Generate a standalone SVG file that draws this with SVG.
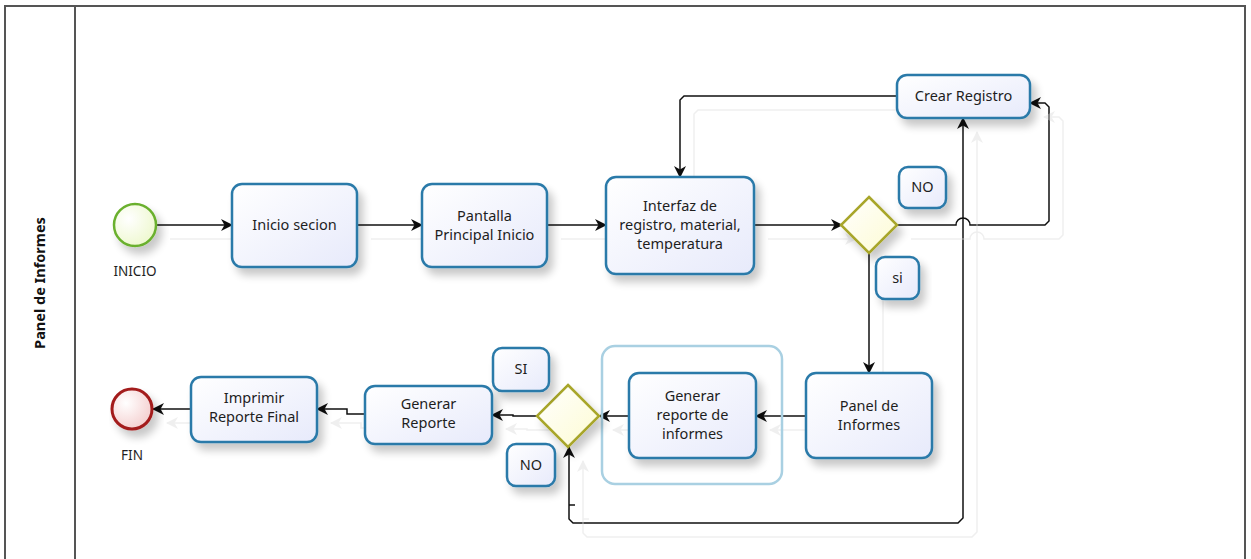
<svg xmlns="http://www.w3.org/2000/svg" width="1251" height="559" viewBox="0 0 1251 559">
  <style>
    .frame { fill: none; stroke: #555; stroke-width: 2; }
    .task { fill: url(#taskFill); stroke: #2b7aa9; stroke-width: 2.5; filter: url(#nodeShadow); }
    .note { fill: url(#taskFill); stroke: #2b7aa9; stroke-width: 2.5; filter: url(#nodeShadow); }
    .gw { fill: url(#gwFill); stroke: #a8a62c; stroke-width: 2.5; filter: url(#nodeShadow); }
    .container { fill: none; stroke: #a9d0e2; stroke-width: 2.5; }
    .start { fill: url(#startFill); stroke: #6bb02f; stroke-width: 2.5; filter: url(#nodeShadow); }
    .end { fill: url(#endFill); stroke: #a31d1d; stroke-width: 3; filter: url(#nodeShadow); }
    .lbl { font-family: "Noto Sans", "Open Sans", sans-serif; font-size: 14.5px; fill: #1e1e1e; text-anchor: middle; }
    .evt { font-family: "Noto Sans", "Open Sans", sans-serif; font-size: 13.5px; fill: #1e1e1e; text-anchor: middle; }
    .lane { font-family: "Noto Sans", "Liberation Sans", sans-serif; font-size: 14.5px; font-weight: bold; fill: #111; text-anchor: middle; }
    .flow { fill: none; stroke: #111; stroke-width: 1.5; }
  </style>
  <defs>
    <linearGradient id="taskFill" x1="0" y1="0" x2="1" y2="1">
      <stop offset="0" stop-color="#ffffff"/>
      <stop offset="1" stop-color="#e7eafb"/>
    </linearGradient>
    <linearGradient id="gwFill" x1="0" y1="0" x2="1" y2="1">
      <stop offset="0" stop-color="#ffffff"/>
      <stop offset="1" stop-color="#fdfbd2"/>
    </linearGradient>
    <radialGradient id="startFill" cx="0.35" cy="0.35" r="0.7">
      <stop offset="0" stop-color="#ffffff"/>
      <stop offset="1" stop-color="#eef8cf"/>
    </radialGradient>
    <radialGradient id="endFill" cx="0.35" cy="0.35" r="0.7">
      <stop offset="0" stop-color="#ffffff"/>
      <stop offset="1" stop-color="#f4cfcf"/>
    </radialGradient>
    <filter id="nodeShadow" x="-20%" y="-20%" width="150%" height="160%">
      <feGaussianBlur in="SourceAlpha" stdDeviation="4"/>
      <feOffset dx="5" dy="7" result="b"/>
      <feComponentTransfer in="b" result="s">
        <feFuncA type="linear" slope="0.22"/>
      </feComponentTransfer>
      <feMerge>
        <feMergeNode in="s"/>
        <feMergeNode in="SourceGraphic"/>
      </feMerge>
    </filter>
    <filter id="flowGhost" x="-5%" y="-5%" width="115%" height="120%">
      <feFlood flood-color="#efefef"/>
      <feComposite in2="SourceAlpha" operator="in"/>
      <feOffset dx="14" dy="14" result="g"/>
      <feMerge>
        <feMergeNode in="g"/>
        <feMergeNode in="SourceGraphic"/>
      </feMerge>
    </filter>
    <marker id="arrow" viewBox="0 0 12 12" refX="11" refY="6" markerWidth="12" markerHeight="12" markerUnits="userSpaceOnUse" orient="auto-start-reverse">
      <path d="M0,0 L12,6 L0,12 L3.5,6 z" fill="#111"/>
    </marker>
  </defs>

  <rect width="1251" height="559" fill="#ffffff"/>

  <!-- pool and lane frame -->
  <g id="pool">
    <path class="frame" d="M5,570 V6 H1245 V570"/>
    <line class="frame" x1="75" y1="6" x2="75" y2="570"/>
    <text class="lane" transform="translate(45,283) rotate(-90)">Panel de Informes</text>
  </g>

  <!-- sequence flows -->
  <g id="connectors" filter="url(#flowGhost)">
    <path class="flow" d="M156,225 H232" marker-end="url(#arrow)"/>
    <path class="flow" d="M357,225 H422" marker-end="url(#arrow)"/>
    <path class="flow" d="M547,225 H606" marker-end="url(#arrow)"/>
    <path class="flow" d="M754,225 H842" marker-end="url(#arrow)"/>
    <path class="flow" d="M897,225 H956 A7,7 0 0 1 970,225 H1045 L1049,221 V107 L1045,103 H1030" marker-end="url(#arrow)"/>
    <path class="flow" d="M897,96 H684 L680,100 V177" marker-end="url(#arrow)"/>
    <path class="flow" d="M869,253 V373" marker-end="url(#arrow)"/>
    <path class="flow" d="M806,416 H756" marker-end="url(#arrow)"/>
    <path class="flow" d="M629,416 H599" marker-end="url(#arrow)"/>
    <path class="flow" d="M538,416 H513 V415 H492" marker-end="url(#arrow)"/>
    <path class="flow" d="M365,414 H347 V409 H317" marker-end="url(#arrow)"/>
    <path class="flow" d="M191,409 H153" marker-end="url(#arrow)"/>
    <path class="flow" d="M963,118 V518 L958,523 H573 L569,519 V447" marker-start="url(#arrow)" marker-end="url(#arrow)"/>
    <path class="flow" d="M569,505 H575"/>
  </g>

  <!-- container around report generation -->
  <g id="grupo-reporte">
    <rect class="container" x="602" y="346" width="180" height="138" rx="13"/>
  </g>

  <g id="inicio">
    <circle class="start" cx="135" cy="225" r="21"/>
    <text class="evt" x="135" y="276">INICIO</text>
  </g>

  <g id="inicio-secion">
    <rect class="task" x="232" y="184" width="125" height="83" rx="10"/>
    <text class="lbl" x="294.5" y="230">Inicio secion</text>
  </g>

  <g id="pantalla-principal">
    <rect class="task" x="422" y="184" width="125" height="83" rx="10"/>
    <text class="lbl" x="484.5" y="221">Pantalla</text>
    <text class="lbl" x="484.5" y="240">Principal Inicio</text>
  </g>

  <g id="interfaz-registro">
    <rect class="task" x="606" y="177" width="148" height="97" rx="10"/>
    <text class="lbl" x="680" y="211">Interfaz de</text>
    <text class="lbl" x="680" y="230">registro, material,</text>
    <text class="lbl" x="680" y="249">temperatura</text>
  </g>

  <g id="decision-registro">
    <polygon class="gw" points="869,197 897,225 869,253 841,225"/>
  </g>

  <g id="crear-registro">
    <rect class="task" x="897" y="75" width="133" height="43" rx="10"/>
    <text class="lbl" x="963.5" y="101">Crear Registro</text>
  </g>

  <g id="etiqueta-no-1">
    <rect class="note" x="899" y="167" width="47" height="41" rx="9"/>
    <text class="lbl" x="922.5" y="192">NO</text>
  </g>

  <g id="etiqueta-si-1">
    <rect class="note" x="876" y="257" width="43" height="42" rx="9"/>
    <text class="lbl" x="897.5" y="283">si</text>
  </g>

  <g id="panel-informes">
    <rect class="task" x="806" y="373" width="126" height="85" rx="10"/>
    <text class="lbl" x="869" y="411">Panel de</text>
    <text class="lbl" x="869" y="430">Informes</text>
  </g>

  <g id="generar-reporte-informes">
    <rect class="task" x="629" y="373" width="127" height="85" rx="10"/>
    <text class="lbl" x="692.5" y="401">Generar</text>
    <text class="lbl" x="692.5" y="420">reporte de</text>
    <text class="lbl" x="692.5" y="439">informes</text>
  </g>

  <g id="decision-reporte">
    <polygon class="gw" points="568,385 599,416 568,447 537,416"/>
  </g>

  <g id="etiqueta-si-2">
    <rect class="note" x="493" y="348" width="56" height="43" rx="9"/>
    <text class="lbl" x="521" y="374">SI</text>
  </g>

  <g id="etiqueta-no-2">
    <rect class="note" x="507" y="444" width="48" height="42" rx="9"/>
    <text class="lbl" x="531" y="470">NO</text>
  </g>

  <g id="generar-reporte">
    <rect class="task" x="365" y="386" width="127" height="58" rx="10"/>
    <text class="lbl" x="428.5" y="409">Generar</text>
    <text class="lbl" x="428.5" y="428">Reporte</text>
  </g>

  <g id="imprimir-reporte">
    <rect class="task" x="191" y="377" width="126" height="65" rx="10"/>
    <text class="lbl" x="254" y="403">Imprimir</text>
    <text class="lbl" x="254" y="422">Reporte Final</text>
  </g>

  <g id="fin">
    <circle class="end" cx="132" cy="409" r="20"/>
    <text class="evt" x="132" y="460">FIN</text>
  </g>
</svg>
